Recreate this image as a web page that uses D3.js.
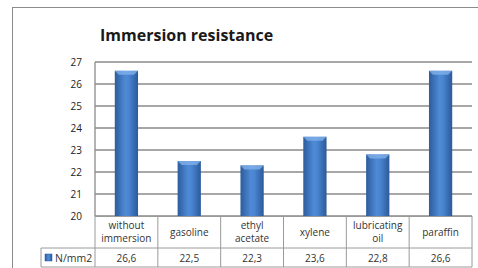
<!DOCTYPE html>
<html>
<head>
<meta charset="utf-8">
<script src="https://cdn.jsdelivr.net/npm/d3@7"></script>
<style>
  body { margin: 0; background: #fff; }
  svg { display: block; font-family: "Open Sans", "Noto Sans", sans-serif; }
</style>
</head>
<body>
<div id="chart"></div>
<script>
// chart data
const categories = [["without", "immersion"], ["gasoline"], ["ethyl", "acetate"], ["xylene"], ["lubricating", "oil"], ["paraffin"]];
const values = [26.6, 22.5, 22.3, 23.6, 22.8, 26.6];
const valueLabels = ["26,6", "22,5", "22,3", "23,6", "22,8", "26,6"];
const yTicks = [20, 21, 22, 23, 24, 25, 26, 27];
const seriesName = "N/mm2";

const width = 478, height = 268;
let margin = {top: 62, left: 95, right: 6, bottom: 52};
let plotW = width - margin.left - margin.right,
    plotH = height - margin.top - margin.bottom;

let svg = d3.select("#chart").append("svg")
  .attr("width", width)
  .attr("height", height);

// gradient for the bars
let defs = svg.append("defs");
let grad = defs.append("linearGradient").attr("id", "barGrad")
  .attr("x1", "0%").attr("x2", "100%").attr("y1", "0%").attr("y2", "0%");
grad.append("stop").attr("offset", "0%").attr("stop-color", "#2c5c9c");
grad.append("stop").attr("offset", "45%").attr("stop-color", "#4f8ad6");
grad.append("stop").attr("offset", "60%").attr("stop-color", "#4a85d2");
grad.append("stop").attr("offset", "100%").attr("stop-color", "#2b5a99");

// outer chart border (right and bottom run off the picture)
svg.append("rect")
  .attr("x", 12.5).attr("y", 7.5)
  .attr("width", 520).attr("height", 300)
  .attr("fill", "none").attr("stroke", "#8c8c8c").attr("stroke-width", 1);

svg.append("text")
  .attr("x", 100).attr("y", 41)
  .attr("font-size", 16).attr("font-weight", "bold").attr("fill", "#1a1a1a")
  .text("Immersion resistance");

let g = svg.append("g").attr("transform", "translate(" + margin.left + "," + margin.top + ")");

let x = d3.scaleBand()
  .domain(d3.range(categories.length))
  .range([0, plotW]);

let y = d3.scaleLinear()
  .domain([20, 27])
  .range([plotH, 0]);

// gridlines
g.selectAll(".grid")
  .data(yTicks)
  .enter().append("line")
  .attr("x1", 0).attr("x2", plotW)
  .attr("y1", d => y(d)).attr("y2", d => y(d))
  .attr("stroke", "#8a8a8a").attr("stroke-width", 1.3);

// y axis
let yAxis = g.append("g")
  .call(d3.axisLeft(y).tickValues(yTicks).tickFormat(d3.format("d")).tickSize(0).tickPadding(13));
yAxis.select(".domain").remove();
yAxis.selectAll("text").attr("font-size", 10).attr("fill", "#222")
  .attr("font-family", "'Open Sans', sans-serif");
g.append("line")
  .attr("x1", 0).attr("x2", 0).attr("y1", 0).attr("y2", plotH)
  .attr("stroke", "#8a8a8a").attr("stroke-width", 1.3);

// bars
let barW = x.bandwidth() * 0.37;
let bars = g.selectAll(".bar")
  .data(values)
  .enter().append("g");
bars.append("rect")
  .attr("x", (d, i) => x(i) + (x.bandwidth() - barW) / 2)
  .attr("y", d => y(d))
  .attr("width", barW)
  .attr("height", d => plotH - y(d))
  .attr("fill", "url(#barGrad)");
// top bevel
bars.append("path")
  .attr("d", (d, i) => {
    let x0 = x(i) + (x.bandwidth() - barW) / 2, y0 = y(d);
    return "M" + x0 + "," + y0 + "L" + (x0 + barW) + "," + y0 +
      "L" + (x0 + barW - 4) + "," + (y0 + 4) + "L" + (x0 + 4) + "," + (y0 + 4) + "Z";
  })
  .attr("fill", "#7fb0ea").attr("opacity", 0.8);

// data table
let tbl = g.append("g").attr("transform", "translate(0," + plotH + ")");
let row1 = 32, row2 = 19;
let lineC = "#9a9a9a";
tbl.append("line").attr("x1", 0).attr("x2", plotW).attr("y1", 0.5).attr("y2", 0.5).attr("stroke", lineC);
tbl.append("line").attr("x1", -54).attr("x2", plotW).attr("y1", row1).attr("y2", row1).attr("stroke", lineC);
tbl.append("line").attr("x1", -54).attr("x2", plotW).attr("y1", row1 + row2).attr("y2", row1 + row2).attr("stroke", lineC);
tbl.append("line").attr("x1", -54).attr("x2", -54).attr("y1", row1).attr("y2", row1 + row2).attr("stroke", lineC);
tbl.selectAll(".vline")
  .data(d3.range(categories.length + 1))
  .enter().append("line")
  .attr("x1", i => i < categories.length ? x(i) : plotW)
  .attr("x2", i => i < categories.length ? x(i) : plotW)
  .attr("y1", 0).attr("y2", row1 + row2)
  .attr("stroke", lineC);

// category labels
tbl.selectAll(".cat")
  .data(categories)
  .enter().append("text")
  .attr("text-anchor", "middle")
  .attr("font-size", 10).attr("fill", "#333")
  .each(function(d, i) {
    let t = d3.select(this);
    let cx = x(i) + x.bandwidth() / 2;
    let startY = d.length === 2 ? 13 : 19.5;
    d.forEach((line, k) => {
      t.append("tspan").attr("x", cx).attr("y", startY + k * 12.5).text(line);
    });
  });

// value labels
tbl.selectAll(".val")
  .data(valueLabels)
  .enter().append("text")
  .attr("x", (d, i) => x(i) + x.bandwidth() / 2)
  .attr("y", row1 + 14)
  .attr("text-anchor", "middle")
  .attr("font-size", 10).attr("fill", "#333")
  .text(d => d);

// legend key
tbl.append("rect")
  .attr("x", -50).attr("y", row1 + 6).attr("width", 7).attr("height", 7)
  .attr("fill", "url(#barGrad)").attr("stroke", "#2b5a99").attr("stroke-width", 0.5);
tbl.append("text")
  .attr("x", -40).attr("y", row1 + 14)
  .attr("font-size", 10.5).attr("fill", "#333")
  .text(seriesName);
</script>
</body>
</html>
